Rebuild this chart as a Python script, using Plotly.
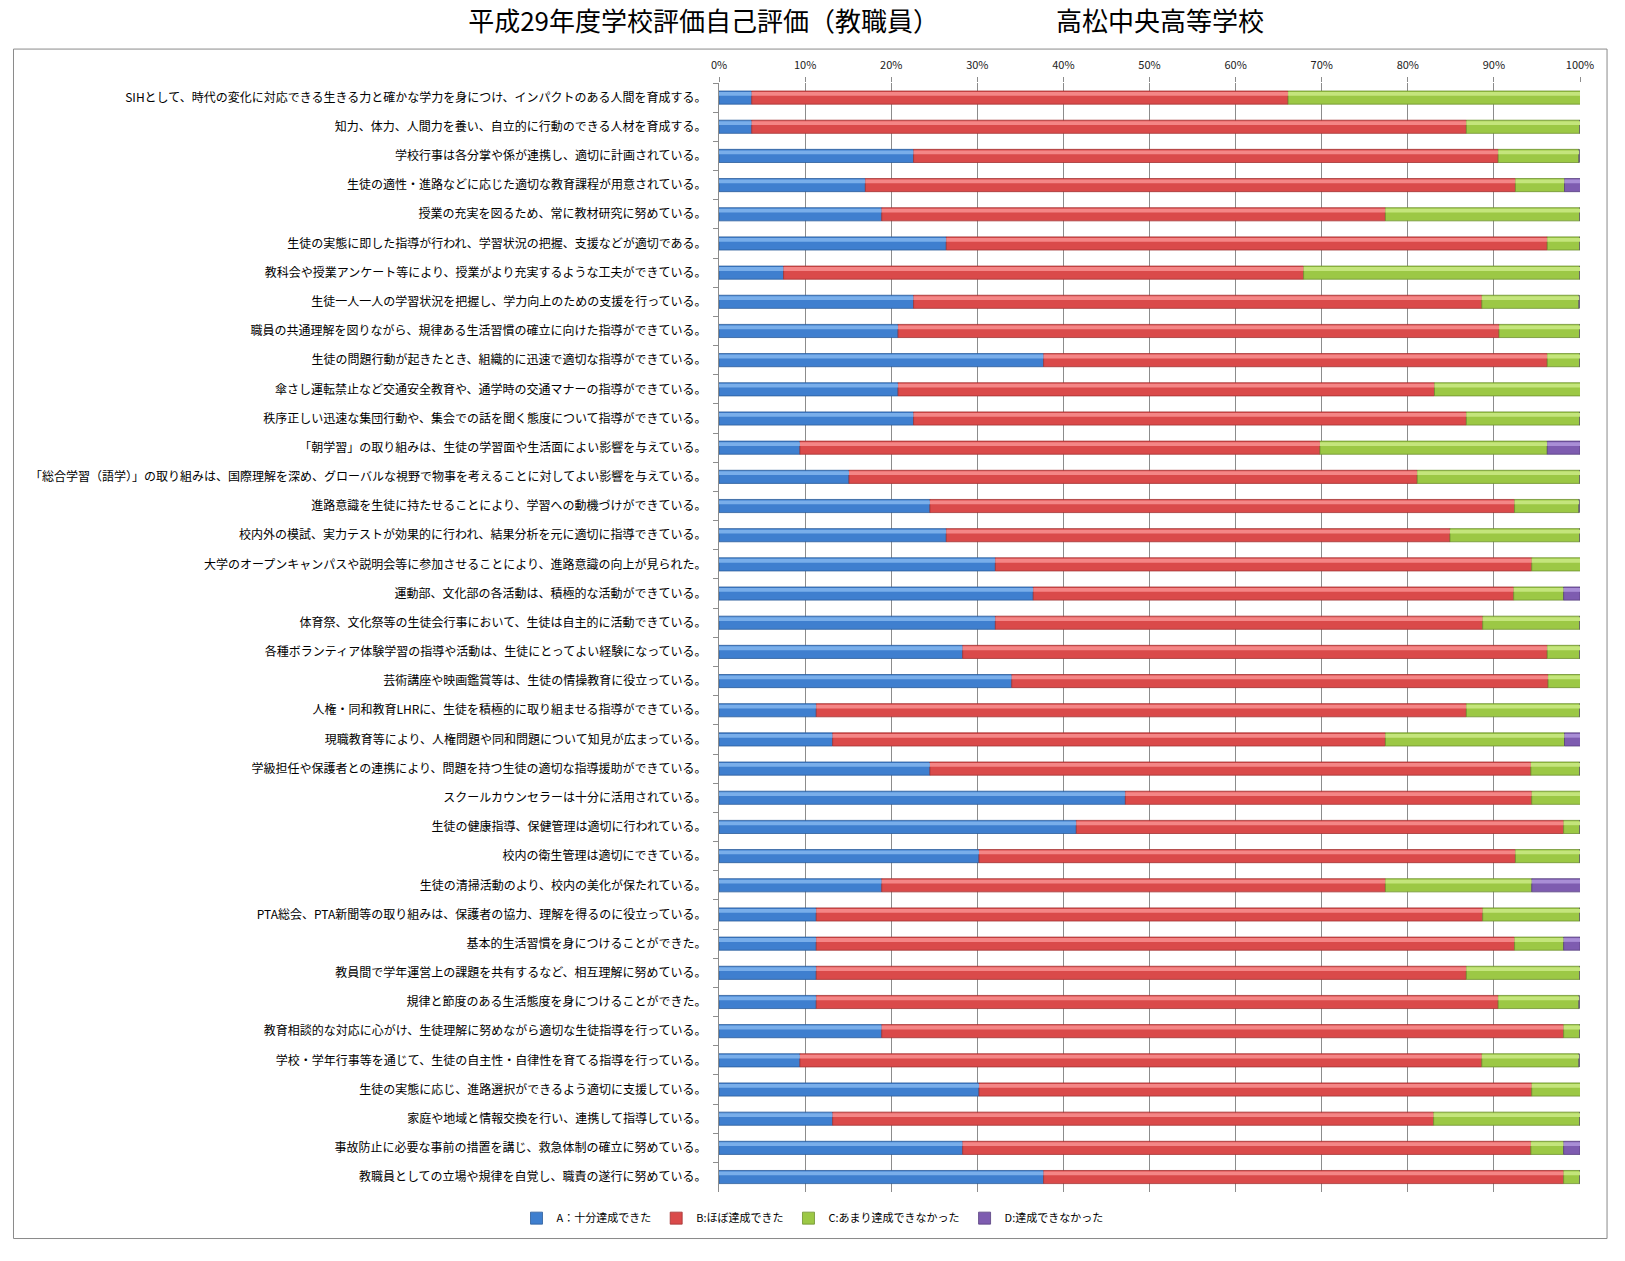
import numpy as np
import plotly.graph_objects as go

title_text = "平成29年度学校評価自己評価（教職員）　　　　　高松中央高等学校"

categories = [
    "SIHとして、時代の変化に対応できる生きる力と確かな学力を身につけ、インパクトのある人間を育成する。",
    "知力、体力、人間力を養い、自立的に行動のできる人材を育成する。",
    "学校行事は各分掌や係が連携し、適切に計画されている。",
    "生徒の適性・進路などに応じた適切な教育課程が用意されている。",
    "授業の充実を図るため、常に教材研究に努めている。",
    "生徒の実態に即した指導が行われ、学習状況の把握、支援などが適切である。",
    "教科会や授業アンケート等により、授業がより充実するような工夫ができている。",
    "生徒一人一人の学習状況を把握し、学力向上のための支援を行っている。",
    "職員の共通理解を図りながら、規律ある生活習慣の確立に向けた指導ができている。",
    "生徒の問題行動が起きたとき、組織的に迅速で適切な指導ができている。",
    "傘さし運転禁止など交通安全教育や、通学時の交通マナーの指導ができている。",
    "秩序正しい迅速な集団行動や、集会での話を聞く態度について指導ができている。",
    "「朝学習」の取り組みは、生徒の学習面や生活面によい影響を与えている。",
    "「総合学習（語学）」の取り組みは、国際理解を深め、グローバルな視野で物事を考えることに対してよい影響を与えている。",
    "進路意識を生徒に持たせることにより、学習への動機づけができている。",
    "校内外の模試、実力テストが効果的に行われ、結果分析を元に適切に指導できている。",
    "大学のオープンキャンパスや説明会等に参加させることにより、進路意識の向上が見られた。",
    "運動部、文化部の各活動は、積極的な活動ができている。",
    "体育祭、文化祭等の生徒会行事において、生徒は自主的に活動できている。",
    "各種ボランティア体験学習の指導や活動は、生徒にとってよい経験になっている。",
    "芸術講座や映画鑑賞等は、生徒の情操教育に役立っている。",
    "人権・同和教育LHRに、生徒を積極的に取り組ませる指導ができている。",
    "現職教育等により、人権問題や同和問題について知見が広まっている。",
    "学級担任や保護者との連携により、問題を持つ生徒の適切な指導援助ができている。",
    "スクールカウンセラーは十分に活用されている。",
    "生徒の健康指導、保健管理は適切に行われている。",
    "校内の衛生管理は適切にできている。",
    "生徒の清掃活動のより、校内の美化が保たれている。",
    "PTA総会、PTA新聞等の取り組みは、保護者の協力、理解を得るのに役立っている。",
    "基本的生活習慣を身につけることができた。",
    "教員間で学年運営上の課題を共有するなど、相互理解に努めている。",
    "規律と節度のある生活態度を身につけることができた。",
    "教育相談的な対応に心がけ、生徒理解に努めながら適切な生徒指導を行っている。",
    "学校・学年行事等を通じて、生徒の自主性・自律性を育てる指導を行っている。",
    "生徒の実態に応じ、進路選択ができるよう適切に支援している。",
    "家庭や地域と情報交換を行い、連携して指導している。",
    "事故防止に必要な事前の措置を講じ、救急体制の確立に努めている。",
    "教職員としての立場や規律を自覚し、職責の遂行に努めている。",
]

series_names = ["A：十分達成できた", "B:ほぼ達成できた", "C:あまり達成できなかった", "D:達成できなかった"]

vals_A = [3.8, 3.8, 22.6, 17.0, 18.9, 26.4, 7.5, 22.6, 20.8, 37.7,
          20.8, 22.6, 9.4, 15.1, 24.5, 26.4, 32.1, 36.5, 32.1, 28.3,
          34.0, 11.3, 13.2, 24.5, 47.2, 41.5, 30.2, 18.9, 11.3, 11.3,
          11.3, 11.3, 18.9, 9.4, 30.2, 13.2, 28.3, 37.7]
vals_B = [62.3, 83.0, 67.9, 75.5, 58.5, 69.8, 60.4, 66.0, 69.8, 58.5,
          62.3, 64.2, 60.4, 66.0, 67.9, 58.5, 62.3, 55.8, 56.6, 67.9,
          62.3, 75.5, 64.2, 69.8, 47.2, 56.6, 62.3, 58.5, 77.4, 81.1,
          75.5, 79.2, 79.2, 79.2, 64.2, 69.8, 66.0, 60.4]
vals_C = [34.0, 13.2, 9.4, 5.7, 22.6, 3.8, 32.1, 11.3, 9.4, 3.8,
          17.0, 13.2, 26.4, 18.9, 7.5, 15.1, 5.7, 5.8, 11.3, 3.8,
          3.8, 13.2, 20.8, 5.7, 5.7, 1.9, 7.5, 17.0, 11.3, 5.7,
          13.2, 9.4, 1.9, 11.3, 5.7, 17.0, 3.8, 1.9]
vals_D = [0, 0, 0, 1.9, 0, 0, 0, 0, 0, 0,
          0, 0, 3.8, 0, 0, 0, 0, 1.9, 0, 0,
          0, 0, 1.9, 0, 0, 0, 0, 5.7, 0, 1.9,
          0, 0, 0, 0, 0, 0, 1.9, 0]

x_ticks = [0, 10, 20, 30, 40, 50, 60, 70, 80, 90, 100]

main_colors = ["#3F7FCF", "#DA4A4A", "#9CC845", "#7E5CB0"]
light_colors = ["#79AEEA", "#F48686", "#C4E57C", "#A98ED6"]
edge_colors = ["#2C5D9A", "#A33434", "#6F9230", "#58407F"]

FONT = "Noto Sans CJK JP"

series = [vals_A, vals_B, vals_C, vals_D]
arr = np.array(series, dtype=float)
bases = np.vstack([np.zeros(arr.shape[1]), np.cumsum(arr, axis=0)[:-1]])

fig = go.Figure()
for i, name in enumerate(series_names):
    fig.add_trace(go.Bar(
        y=categories, x=arr[i], base=bases[i], orientation="h", name=name,
        width=0.45, offset=-0.225,
        marker=dict(color=main_colors[i], line=dict(color=edge_colors[i], width=0.8)),
        hoverinfo="skip",
    ))
for i, name in enumerate(series_names):
    fig.add_trace(go.Bar(
        y=categories, x=arr[i], base=bases[i], orientation="h", name=name,
        width=0.13, offset=-0.19, showlegend=False,
        marker=dict(color=light_colors[i], line=dict(width=0)),
        hoverinfo="skip",
    ))

fig.update_layout(
    width=1625, height=1261, autosize=False,
    barmode="overlay",
    paper_bgcolor="white", plot_bgcolor="white",
    margin=dict(l=719, r=45, t=83, b=68),
    font=dict(family=FONT, color="#000000"),
    title=dict(text=title_text, font=dict(family=FONT, size=26, color="#000000"),
               xref="container", x=0.533, xanchor="center",
               yref="container", y=0.983, yanchor="middle"),
    showlegend=True,
    legend=dict(orientation="h", xref="container", x=0.5, xanchor="center",
                yref="container", y=0.034, yanchor="middle",
                font=dict(family=FONT, size=11, color="#000000"),
                traceorder="normal", bgcolor="rgba(0,0,0,0)"),
    xaxis=dict(side="top", range=[0, 100], tickvals=x_ticks,
               ticktext=[f"{t}%" for t in x_ticks],
               showgrid=True, gridcolor="#8C8C8C", gridwidth=1,
               zeroline=False, showline=False,
               ticks="outside", ticklen=5, tickcolor="#8C8C8C", tickwidth=1,
               ticklabelstandoff=4,
               tickfont=dict(family=FONT, size=11, color="#222222"),
               fixedrange=True),
    yaxis=dict(type="category", categoryorder="array", categoryarray=categories,
               autorange="reversed", showgrid=False, zeroline=False,
               showline=True, linecolor="#8C8C8C", linewidth=1,
               ticks="outside", tickson="boundaries", ticklen=5, tickcolor="#8C8C8C",
               tickfont=dict(family=FONT, size=12, color="#000000"),
               ticklabelstandoff=9, fixedrange=True),
    shapes=[dict(type="rect", xref="paper", yref="paper",
                 x0=-0.8194, x1=1.0314, y0=-0.0423, y1=1.0306,
                 line=dict(color="#8A8A8A", width=1), fillcolor="rgba(0,0,0,0)",
                 layer="below")],
)

fig.write_html(
    "out.html",
    config={"displayModeBar": False},
    post_script="document.body.style.margin='0px';document.body.style.overflow='hidden';",
)
